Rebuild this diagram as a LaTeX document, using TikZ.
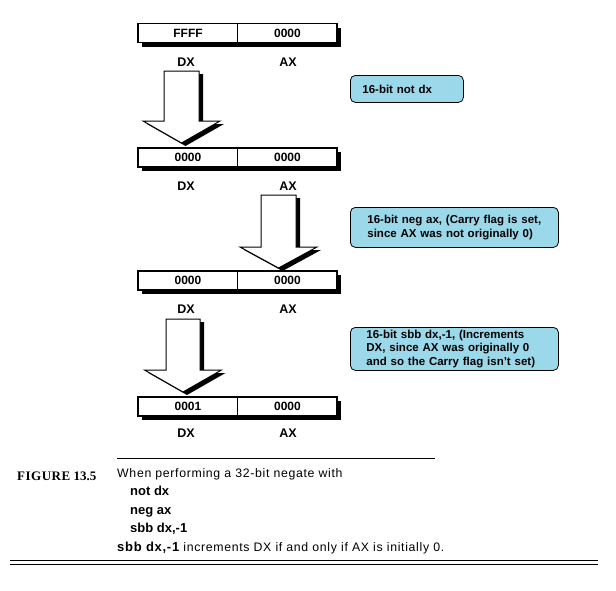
\documentclass[tikz,border=0pt]{standalone}
\usepackage{fontspec}
\setmainfont{Liberation Sans}
\newfontfamily\capserif{Liberation Serif}
\newfontfamily\widesans[LetterSpace=5.5]{Liberation Sans}
\usetikzlibrary{shadows}
\definecolor{calloutblue}{RGB}{155,216,234}
\begin{document}
\begin{tikzpicture}[x=1pt,y=-1pt,
  regframe/.style={draw=black, line width=1.6pt, fill=white, minimum width=199pt, minimum height=19pt, inner sep=0pt,
    drop shadow={shadow xshift=4pt, shadow yshift=-4pt, fill=black, opacity=1}},
  celltext/.style={font=\bfseries\fontsize{12}{14}\selectfont, inner sep=0pt},
  lab/.style={font=\bfseries\fontsize{12.5}{14}\selectfont, inner sep=0pt},
  blockarrow/.style={draw=black, line width=1pt, fill=white},
  arrowshadow/.style={fill=black},
  callout/.style={draw=black, line width=0.8pt, fill=calloutblue, rounded corners=5pt, anchor=north west,
    align=left, font=\bfseries\fontsize{11.5}{13.5}\selectfont, inner ysep=0pt},
  captext/.style={font=\widesans\fontsize{12.3}{14}\selectfont, anchor=base west, inner sep=0pt},
  capbold/.style={font=\bfseries\fontsize{13}{15}\selectfont, anchor=base west, inner sep=0pt}
]
\useasboundingbox (0,0) rectangle (616,590);
\fill[white] (0,0) rectangle (616,590);

% registers
\foreach \i/\y/\ly/\d/\a in {1/33/62/FFFF/0000, 2/157.5/186/0000/0000, 3/280.5/309/0000/0000, 4/406.5/433/0001/0000}{
  \node[regframe] (reg\i) at (237.5,\y) {};
  \draw[line width=0.7pt] (reg\i.north) -- (reg\i.south);
  \node[celltext] (dx\i) at (188,\y) {\d};
  \node[celltext] (ax\i) at (287.5,\y) {\a};
  \node[lab] (ldx\i) at (186,\ly) {DX};
  \node[lab] (lax\i) at (288,\ly) {AX};
}

% block arrows: shaft left, shaft right, top, head y, tip y
\foreach \sl/\sr/\t/\h/\tp in {164/199/71/121/143, 261/296/195/247/268, 166/200/319/370/392}{
  \pgfmathsetmacro{\c}{(\sl+\sr)/2}
  \pgfmathsetmacro{\hl}{\c-38.5}
  \pgfmathsetmacro{\hr}{\c+38.5}
  \fill[arrowshadow, xshift=4pt, yshift=-3pt] (\sl,\t) -- (\sr,\t) -- (\sr,\h) -- (\hr,\h) -- (\c,\tp) -- (\hl,\h) -- (\sl,\h) -- cycle;
  \draw[blockarrow] (\sl,\t) -- (\sr,\t) -- (\sr,\h) -- (\hr,\h) -- (\c,\tp) -- (\hl,\h) -- (\sl,\h) -- cycle;
}

% callouts
\node[callout, minimum width=113pt, minimum height=27pt, inner xsep=12pt, text width=89pt] (c1) at (350,75) {16-bit not dx};
\node[callout, minimum width=208pt, minimum height=40pt, inner xsep=17pt, text width=174pt] (c2) at (350,207) {16-bit neg ax, (Carry flag is set,\\since AX was not originally 0)};
\node[callout, minimum width=208pt, minimum height=43pt, inner xsep=16pt, text width=176pt] (c3) at (350,327) {16-bit sbb dx,-1, (Increments\\DX, since AX was originally 0\\and so the Carry flag isn't set)};

% caption
\coordinate (capL) at (117,458);
\coordinate (capR) at (435,458);
\draw[line width=0.8pt] (capL) -- (capR);
\node[font=\capserif\bfseries\fontsize{13}{15}\selectfont, anchor=base west, inner sep=0pt] (fig) at (17,480) {F\kern0.5ptI\kern0.5ptG\kern0.5ptU\kern0.5ptR\kern0.5ptE 13.5};
\node[captext] (t1) at (117,477) {When performing a 32-bit negate with};
\node[capbold] (t2) at (130,495.5) {not dx};
\node[capbold] (t3) at (130,514) {neg ax};
\node[capbold] (t4) at (130,532.5) {sbb dx,-1};
\node[captext] (t5) at (117,551) {{\bfseries\fontsize{13}{15}\selectfont sbb dx,-1} increments DX if and only if AX is initially 0.};
\coordinate (dlL) at (10,560.5);
\coordinate (dlR) at (598,560.5);
\draw[line width=0.9pt] (dlL) -- (dlR);
\draw[line width=0.9pt] ([yshift=-3.5pt]dlL) -- ([yshift=-3.5pt]dlR);
\end{tikzpicture}
\end{document}
